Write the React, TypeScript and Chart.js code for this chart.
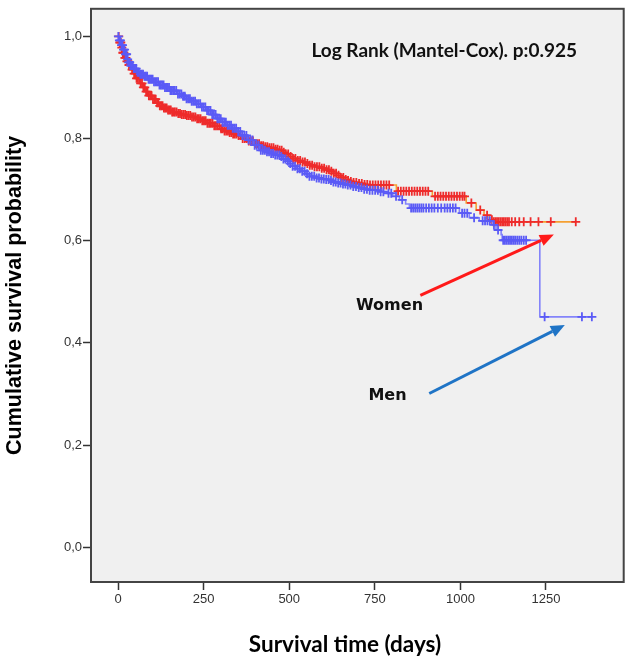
import React, { useEffect, useRef } from "react";
import { Chart, registerables } from "chart.js";

Chart.register(...registerables);

// ---- Data ----
// Women: event times (days) and survival after each step
const womenTimes = [0, 4, 9, 14, 20, 26, 32, 40, 47, 54, 64, 72, 80, 90, 100, 111, 122, 134, 145, 158, 172, 186, 200, 215, 230, 245, 260, 278, 297, 311, 325, 336, 347, 363, 380, 397, 414, 427, 440, 456, 472, 481, 490, 500, 510, 522, 535, 547, 559, 574, 590, 604, 618, 628, 638, 649, 660, 668, 676, 688, 700, 717, 734, 813, 918, 1017, 1046, 1069, 1084, 1095, 1337];
const womenSurv = [1.0, 0.988, 0.978, 0.968, 0.958, 0.951, 0.944, 0.935, 0.927, 0.918, 0.908, 0.9, 0.892, 0.884, 0.877, 0.87, 0.864, 0.86, 0.856, 0.852, 0.849, 0.847, 0.845, 0.842, 0.839, 0.835, 0.83, 0.825, 0.819, 0.815, 0.812, 0.809, 0.806, 0.8, 0.795, 0.79, 0.786, 0.784, 0.782, 0.779, 0.777, 0.773, 0.77, 0.765, 0.761, 0.757, 0.754, 0.751, 0.748, 0.745, 0.742, 0.739, 0.736, 0.732, 0.728, 0.724, 0.72, 0.718, 0.716, 0.714, 0.712, 0.71, 0.709, 0.697, 0.687, 0.674, 0.66, 0.65, 0.641, 0.637, 0.637];

// Men
const menTimes = [0, 4, 9, 14, 20, 26, 31, 37, 45, 55, 65, 75, 88, 102, 118, 135, 153, 172, 186, 200, 215, 230, 245, 260, 274, 288, 303, 318, 332, 347, 363, 380, 397, 414, 430, 445, 458, 472, 481, 490, 500, 510, 522, 535, 547, 559, 574, 590, 604, 618, 629, 640, 653, 667, 683, 700, 717, 734, 760, 784, 802, 822, 840, 851, 997, 1026, 1055, 1093, 1104, 1119, 1122, 1232, 1384];
const menSurv = [1.0, 0.992, 0.983, 0.974, 0.965, 0.955, 0.949, 0.943, 0.937, 0.93, 0.926, 0.922, 0.916, 0.911, 0.905, 0.9, 0.894, 0.887, 0.883, 0.878, 0.873, 0.868, 0.862, 0.855, 0.847, 0.839, 0.832, 0.826, 0.82, 0.814, 0.806, 0.797, 0.787, 0.777, 0.774, 0.771, 0.768, 0.765, 0.76, 0.756, 0.751, 0.746, 0.741, 0.736, 0.731, 0.726, 0.723, 0.721, 0.72, 0.718, 0.715, 0.713, 0.711, 0.709, 0.706, 0.704, 0.701, 0.699, 0.696, 0.693, 0.687, 0.68, 0.672, 0.664, 0.654, 0.645, 0.639, 0.631, 0.621, 0.612, 0.601, 0.451, 0.451];

// Censored observations (days)
const womenCensored = [2, 5, 8, 11, 14, 17, 20, 23, 26, 29, 32, 35, 38, 41, 44, 47, 50, 54, 58, 62, 66, 70, 74, 78, 82, 86, 90, 94, 98, 102, 106, 110, 114, 118, 122, 126, 130, 134, 138, 142, 146, 150, 154, 158, 162, 166, 171, 176, 181, 186, 191, 196, 201, 206, 211, 216, 221, 226, 231, 236, 241, 246, 251, 256, 261, 266, 271, 276, 281, 286, 291, 296, 301, 306, 311, 316, 321, 326, 331, 336, 341, 346, 352, 358, 364, 370, 376, 382, 388, 394, 400, 406, 412, 418, 424, 430, 436, 442, 448, 454, 460, 466, 472, 478, 484, 490, 497, 504, 511, 518, 525, 532, 539, 546, 553, 560, 567, 574, 581, 588, 595, 602, 609, 616, 623, 630, 637, 644, 651, 658, 665, 672, 680, 688, 696, 704, 712, 720, 728, 736, 744, 752, 760, 768, 776, 784, 792, 818, 826, 834, 842, 850, 858, 866, 874, 882, 890, 898, 906, 926, 934, 942, 950, 958, 966, 974, 982, 990, 998, 1006, 1012, 1032, 1058, 1078, 1092, 1097, 1102, 1107, 1112, 1117, 1122, 1127, 1132, 1137, 1142, 1150, 1160, 1172, 1185, 1205, 1228, 1264, 1337];
const menCensored = [1, 4, 7, 10, 13, 16, 19, 22, 25, 28, 31, 34, 37, 40, 43, 46, 49, 53, 57, 61, 65, 69, 73, 77, 81, 85, 89, 93, 97, 101, 105, 109, 113, 117, 121, 125, 129, 133, 137, 141, 145, 149, 153, 157, 161, 165, 170, 175, 180, 185, 190, 195, 200, 205, 210, 215, 220, 225, 230, 235, 240, 245, 250, 255, 260, 265, 270, 275, 280, 285, 290, 295, 300, 305, 310, 315, 320, 325, 330, 335, 340, 345, 351, 357, 363, 369, 375, 381, 387, 393, 399, 405, 411, 417, 423, 429, 435, 441, 447, 453, 459, 465, 471, 477, 483, 489, 496, 503, 510, 517, 524, 531, 538, 545, 552, 559, 566, 573, 580, 587, 594, 601, 608, 615, 622, 629, 636, 643, 650, 657, 664, 671, 679, 687, 695, 703, 711, 719, 727, 735, 743, 751, 759, 767, 775, 790, 798, 812, 830, 856, 862, 868, 874, 880, 886, 892, 900, 908, 916, 924, 934, 944, 954, 962, 970, 978, 986, 1005, 1012, 1020, 1040, 1065, 1072, 1079, 1086, 1098, 1110, 1125, 1130, 1135, 1140, 1145, 1150, 1155, 1160, 1166, 1172, 1178, 1185, 1192, 1246, 1355, 1384];

const xTicks = [0, 250, 500, 750, 1000, 1250];
const yTicks = [0, 0.2, 0.4, 0.6, 0.8, 1.0];

const xTitle = "Survival time (days)";
const yTitle = "Cumulative survival probability";
const testLabel = "Log Rank (Mantel-Cox). p:0.925";
// annotation anchors in data units [days, survival]
const testLabelPos = [565, 0.959];
const womenLabelPos = [793, 0.472];
const menLabelPos = [787, 0.297];
const womenArrow = [[883, 0.493], [1273, 0.612]];
const menArrow = [[909, 0.301], [1305, 0.435]];

function survAt(times: number[], surv: number[], t: number) {
  let s = surv[0];
  for (let i = 0; i < times.length; i++) {
    if (times[i] <= t) s = surv[i];
    else break;
  }
  return s;
}

function drawArrow(ctx: CanvasRenderingContext2D, x1: number, y1: number, x2: number, y2: number, color: string) {
  const ang = Math.atan2(y2 - y1, x2 - x1);
  const headLen = 14;
  const headW = 6;
  const bx = x2 - headLen * Math.cos(ang);
  const by = y2 - headLen * Math.sin(ang);
  ctx.save();
  ctx.strokeStyle = color;
  ctx.fillStyle = color;
  ctx.lineWidth = 3;
  ctx.beginPath();
  ctx.moveTo(x1, y1);
  ctx.lineTo(bx, by);
  ctx.stroke();
  ctx.beginPath();
  ctx.moveTo(x2, y2);
  ctx.lineTo(bx + headW * Math.sin(ang), by - headW * Math.cos(ang));
  ctx.lineTo(bx - headW * Math.sin(ang), by + headW * Math.cos(ang));
  ctx.closePath();
  ctx.fill();
  ctx.restore();
}

const decorPlugin = {
  id: "decor",
  beforeDatasetsDraw(chart: any) {
    const { ctx, chartArea } = chart;
    ctx.save();
    ctx.fillStyle = "#f0f0f0";
    ctx.fillRect(chartArea.left, chartArea.top, chartArea.right - chartArea.left, chartArea.bottom - chartArea.top);
    ctx.restore();
  },
  afterDraw(chart: any) {
    const { ctx, chartArea, scales } = chart;
    const xs = scales.x;
    const ys = scales.y;
    const px = (d: number) => xs.getPixelForValue(d);
    const py = (s: number) => ys.getPixelForValue(s);

    ctx.save();
    // frame
    ctx.strokeStyle = "#444";
    ctx.lineWidth = 2;
    ctx.strokeRect(chartArea.left, chartArea.top, chartArea.right - chartArea.left, chartArea.bottom - chartArea.top);

    // test label
    ctx.fillStyle = "#111";
    ctx.font = "bold 19px Lato";
    ctx.textAlign = "left";
    ctx.textBaseline = "alphabetic";
    ctx.fillText(testLabel, px(testLabelPos[0]), py(testLabelPos[1]));

    // group labels
    ctx.font = "bold 16px 'DejaVu Sans'";
    ctx.textAlign = "center";
    ctx.textBaseline = "middle";
    ctx.fillText("Women", px(womenLabelPos[0]), py(womenLabelPos[1]));
    ctx.fillText("Men", px(menLabelPos[0]), py(menLabelPos[1]));

    // arrows
    drawArrow(ctx, px(womenArrow[0][0]), py(womenArrow[0][1]), px(womenArrow[1][0]), py(womenArrow[1][1]), "#ff1a1a");
    drawArrow(ctx, px(menArrow[0][0]), py(menArrow[0][1]), px(menArrow[1][0]), py(menArrow[1][1]), "#1f74c6");

    // axis titles
    ctx.fillStyle = "#000";
    ctx.font = "bold 22.5px Lato";
    ctx.textAlign = "center";
    ctx.textBaseline = "middle";
    ctx.fillText(xTitle, 345, 645);

    ctx.save();
    ctx.translate(21, (chartArea.top + chartArea.bottom) / 2);
    ctx.rotate(-Math.PI / 2);
    ctx.font = "bold 21.5px 'Liberation Sans'";
    ctx.textAlign = "center";
    ctx.textBaseline = "alphabetic";
    ctx.fillText(yTitle, 0, 0);
    ctx.restore();

    ctx.restore();
  },
};

export default function App() {
  const canvasRef = useRef<HTMLCanvasElement | null>(null);

  useEffect(() => {
    const canvas = canvasRef.current;
    if (!canvas) return;

    const womenLine = womenTimes.map((t, i) => ({ x: t, y: womenSurv[i] }));
    const menLine = menTimes.map((t, i) => ({ x: t, y: menSurv[i] }));
    const womenMarks = womenCensored.map((t) => ({ x: t, y: survAt(womenTimes, womenSurv, t) }));
    const menMarks = menCensored.map((t) => ({ x: t, y: survAt(menTimes, menSurv, t) }));

    const chart = new Chart(canvas, {
      type: "line",
      data: {
        datasets: [
          {
            label: "Men censored",
            data: menMarks,
            showLine: false,
            pointStyle: "cross",
            pointRadius: 4.5,
            pointBorderWidth: 1.8,
            pointBorderColor: "#5a5af6",
            borderColor: "#5a5af6",
          },
          {
            label: "Men",
            data: menLine,
            stepped: true,
            borderColor: "#8484fa",
            borderWidth: 1.6,
            pointRadius: 0,
            fill: false,
          },
          {
            label: "Women censored",
            data: womenMarks,
            showLine: false,
            pointStyle: "cross",
            pointRadius: 4.5,
            pointBorderWidth: 1.8,
            pointBorderColor: "#ee2b2b",
            borderColor: "#ee2b2b",
          },
          {
            label: "Women",
            data: womenLine,
            stepped: true,
            borderColor: "#f5a032",
            borderWidth: 1.6,
            pointRadius: 0,
            fill: false,
          },
        ],
      },
      options: {
        animation: false,
        responsive: true,
        maintainAspectRatio: false,
        layout: { padding: { top: 4, right: 5, left: 0, bottom: 0 } },
        plugins: { legend: { display: false }, tooltip: { enabled: false } },
        scales: {
          x: {
            type: "linear",
            min: -79,
            max: 1477,
            afterBuildTicks: (scale: any) => {
              scale.ticks = xTicks.map((v) => ({ value: v }));
            },
            afterFit: (scale: any) => {
              scale.height = 82;
            },
            grid: { drawOnChartArea: false, drawTicks: true, tickLength: 8, tickColor: "#333", tickWidth: 1.5 },
            border: { display: false },
            ticks: {
              autoSkip: false,
              maxRotation: 0,
              padding: 2,
              color: "#333",
              font: { family: "'Liberation Sans'", size: 13 },
              callback: (v: any) => String(v),
            },
          },
          y: {
            type: "linear",
            min: -0.068,
            max: 1.054,
            afterBuildTicks: (scale: any) => {
              scale.ticks = yTicks.map((v) => ({ value: v }));
            },
            afterFit: (scale: any) => {
              scale.width = 91;
            },
            grid: { drawOnChartArea: false, drawTicks: true, tickLength: 8, tickColor: "#333", tickWidth: 1.5 },
            border: { display: false },
            ticks: {
              autoSkip: false,
              padding: 1,
              color: "#333",
              font: { family: "'Liberation Sans'", size: 13 },
              callback: (v: any) => Number(v).toFixed(1).replace(".", ","),
            },
          },
        },
      },
      plugins: [decorPlugin],
    });

    return () => chart.destroy();
  }, []);

  return (
    <div style={{ position: "absolute", left: 0, top: 0, width: 630, height: 664, background: "#fff" }}>
      <canvas ref={canvasRef} />
    </div>
  );
}
